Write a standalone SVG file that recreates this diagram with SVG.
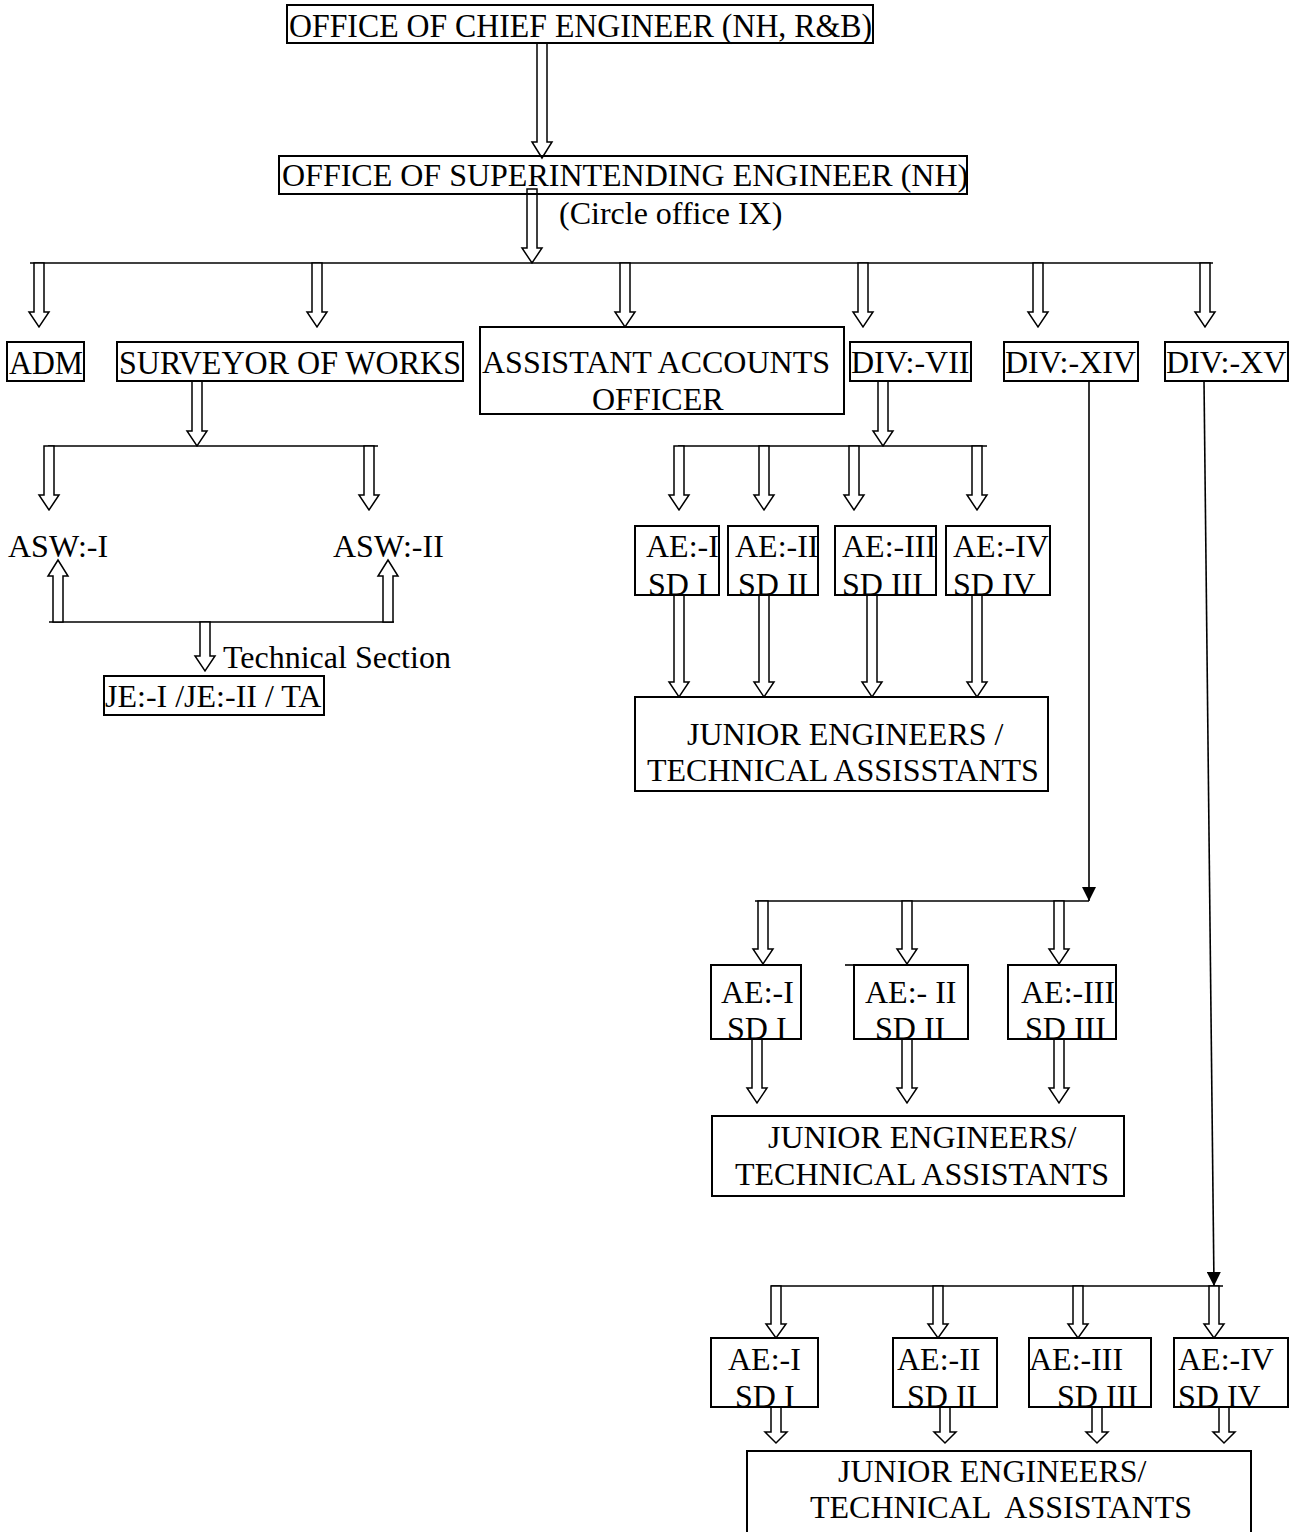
<svg xmlns="http://www.w3.org/2000/svg" width="1290" height="1532" viewBox="0 0 1290 1532">
<style>
.t{font-family:"Liberation Serif","Times New Roman",serif;font-size:32px;fill:#000;white-space:pre}
.tl{font-size:34px}
.box{fill:none;stroke:#000;stroke-width:2}
.ba{fill:#fff;stroke:#000;stroke-width:1.5;stroke-linejoin:miter}
.ln{fill:none;stroke:#000;stroke-width:1.6}
</style>
<defs>
<marker id="fa" viewBox="0 0 10 10" refX="10" refY="5" markerWidth="14" markerHeight="14" markerUnits="userSpaceOnUse" orient="auto">
<path d="M0,0 L10,5 L0,10 z" fill="#000"/>
</marker>
</defs>
<rect width="1290" height="1532" fill="#fff"/>
<g id="connectors">
<line class="ln" x1="30" y1="263" x2="1213" y2="263"/>
<line class="ln" x1="48" y1="446" x2="378" y2="446"/>
<line class="ln" x1="49" y1="622" x2="394" y2="622"/>
<line class="ln" x1="678" y1="446" x2="987" y2="446"/>
<line class="ln" x1="755" y1="901" x2="1089" y2="901"/>
<line class="ln" x1="771" y1="1286" x2="1223" y2="1286"/>
<line class="ln" x1="1089" y1="381" x2="1089" y2="901" marker-end="url(#fa)"/>
<line class="ln" x1="1204" y1="381" x2="1214" y2="1286" marker-end="url(#fa)"/>
<polygon class="ba" points="537,43 547,43 547,142 552,142 542,158 532,142 537,142"/>
<polygon class="ba" points="527,189 537,189 537,248 542,248 532,263 522,248 527,248"/>
<polygon class="ba" points="34,263 44,263 44,312 49,312 39,327 29,312 34,312"/>
<polygon class="ba" points="312,263 322,263 322,312 327,312 317,327 307,312 312,312"/>
<polygon class="ba" points="620,263 630,263 630,312 635,312 625,327 615,312 620,312"/>
<polygon class="ba" points="858,263 868,263 868,312 873,312 863,327 853,312 858,312"/>
<polygon class="ba" points="1033,263 1043,263 1043,312 1048,312 1038,327 1028,312 1033,312"/>
<polygon class="ba" points="1200,263 1210,263 1210,312 1215,312 1205,327 1195,312 1200,312"/>
<polygon class="ba" points="192,381 202,381 202,431 207,431 197,446 187,431 192,431"/>
<polygon class="ba" points="44,446 54,446 54,495 59,495 49,510 39,495 44,495"/>
<polygon class="ba" points="364,446 374,446 374,495 379,495 369,510 359,495 364,495"/>
<polygon class="ba" points="53,622 63,622 63,576 68,576 58,560 48,576 53,576"/>
<polygon class="ba" points="383,622 393,622 393,576 398,576 388,560 378,576 383,576"/>
<polygon class="ba" points="200,622 210,622 210,656 215,656 205,671 195,656 200,656"/>
<polygon class="ba" points="878,381 888,381 888,431 893,431 883,446 873,431 878,431"/>
<polygon class="ba" points="674,446 684,446 684,495 689,495 679,510 669,495 674,495"/>
<polygon class="ba" points="759,446 769,446 769,495 774,495 764,510 754,495 759,495"/>
<polygon class="ba" points="849,446 859,446 859,495 864,495 854,510 844,495 849,495"/>
<polygon class="ba" points="972,446 982,446 982,495 987,495 977,510 967,495 972,495"/>
<polygon class="ba" points="674,595 684,595 684,682 689,682 679,697 669,682 674,682"/>
<polygon class="ba" points="759,595 769,595 769,682 774,682 764,697 754,682 759,682"/>
<polygon class="ba" points="867,595 877,595 877,682 882,682 872,697 862,682 867,682"/>
<polygon class="ba" points="972,595 982,595 982,682 987,682 977,697 967,682 972,682"/>
<polygon class="ba" points="758,901 768,901 768,949 773,949 763,964 753,949 758,949"/>
<polygon class="ba" points="902,901 912,901 912,949 917,949 907,964 897,949 902,949"/>
<polygon class="ba" points="1054,901 1064,901 1064,949 1069,949 1059,964 1049,949 1054,949"/>
<polygon class="ba" points="752,1039 762,1039 762,1088 767,1088 757,1103 747,1088 752,1088"/>
<polygon class="ba" points="902,1039 912,1039 912,1088 917,1088 907,1103 897,1088 902,1088"/>
<polygon class="ba" points="1054,1039 1064,1039 1064,1088 1069,1088 1059,1103 1049,1088 1054,1088"/>
<polygon class="ba" points="771,1286 781,1286 781,1324 786,1324 776,1338 766,1324 771,1324"/>
<polygon class="ba" points="933,1286 943,1286 943,1324 948,1324 938,1338 928,1324 933,1324"/>
<polygon class="ba" points="1073,1286 1083,1286 1083,1324 1088,1324 1078,1338 1068,1324 1073,1324"/>
<polygon class="ba" points="1209,1286 1219,1286 1219,1324 1224,1324 1214,1338 1204,1324 1209,1324"/>
<polygon class="ba" points="771,1407 781,1407 781,1432 787,1432 776,1443 765,1432 771,1432"/>
<polygon class="ba" points="940,1407 950,1407 950,1432 956,1432 945,1443 934,1432 940,1432"/>
<polygon class="ba" points="1092,1407 1102,1407 1102,1432 1108,1432 1097,1443 1086,1432 1092,1432"/>
<polygon class="ba" points="1219,1407 1229,1407 1229,1432 1235,1432 1224,1443 1213,1432 1219,1432"/>
</g>
<g id="n-ce"><rect class="box" x="287" y="5" width="586" height="38"/><text class="t tl" x="289" y="37" textLength="583" lengthAdjust="spacingAndGlyphs">OFFICE OF CHIEF ENGINEER (NH, R&amp;B)</text></g>
<g id="n-se"><rect class="box" x="279" y="156" width="688" height="38"/><text class="t" x="282" y="186">OFFICE OF SUPERINTENDING ENGINEER (NH)</text><text class="t" x="559" y="224">(Circle office IX)</text></g>
<g id="n-adm"><rect class="box" x="7" y="342" width="77" height="39"/><text class="t tl" x="9" y="374" textLength="74" lengthAdjust="spacingAndGlyphs">ADM</text></g>
<g id="n-sow"><rect class="box" x="117" y="342" width="346" height="39"/><text class="t tl" x="119" y="374" textLength="342" lengthAdjust="spacingAndGlyphs">SURVEYOR OF WORKS</text></g>
<g id="n-aao"><rect class="box" x="480" y="327" width="364" height="87"/><text class="t" x="482" y="373">ASSISTANT ACCOUNTS</text><text class="t" x="592" y="410">OFFICER</text></g>
<g id="n-div7"><rect class="box" x="850" y="342" width="121" height="39"/><text class="t" x="851" y="373">DIV:-VII</text></g>
<g id="n-div14"><rect class="box" x="1004" y="342" width="134" height="39"/><text class="t" x="1005" y="373">DIV:-XIV</text></g>
<g id="n-div15"><rect class="box" x="1165" y="342" width="123" height="39"/><text class="t" x="1166" y="373">DIV:-XV</text></g>
<g id="n-asw1"><text class="t" x="8" y="557">ASW:-I</text></g>
<g id="n-asw2"><text class="t" x="333" y="557">ASW:-II</text></g>
<g id="n-tech"><text class="t" x="223" y="668">Technical Section</text><rect class="box" x="104" y="676" width="220" height="39"/><text class="t" x="105" y="707">JE:-I /JE:-II / TA</text></g>
<g id="n-d7-ae1"><rect class="box" x="635" y="526" width="84" height="69"/><text class="t" x="646" y="557">AE:-I</text><text class="t" x="648" y="595">SD I</text></g>
<g id="n-d7-ae2"><rect class="box" x="728" y="526" width="90" height="69"/><text class="t" x="735" y="557">AE:-II</text><text class="t" x="738" y="595">SD II</text></g>
<g id="n-d7-ae3"><rect class="box" x="835" y="526" width="101" height="69"/><text class="t" x="842" y="557">AE:-III</text><text class="t" x="842" y="595">SD III</text></g>
<g id="n-d7-ae4"><rect class="box" x="946" y="526" width="104" height="69"/><text class="t" x="953" y="557">AE:-IV</text><text class="t" x="953" y="595">SD IV</text></g>
<g id="n-d7-je"><rect class="box" x="635" y="697" width="413" height="94"/><text class="t" x="687" y="745">JUNIOR ENGINEERS /</text><text class="t" x="647" y="781">TECHNICAL ASSISSTANTS</text></g>
<g id="n-d14-ae1"><rect class="box" x="711" y="965" width="90" height="74"/><text class="t" x="721" y="1003">AE:-I</text><text class="t" x="727" y="1039">SD I</text></g>
<g id="n-d14-ae2"><rect class="box" x="854" y="965" width="114" height="74"/><line class="ln" x1="845" y1="965" x2="854" y2="965"/><text class="t" x="865" y="1003">AE:- II</text><text class="t" x="875" y="1039">SD II</text></g>
<g id="n-d14-ae3"><rect class="box" x="1008" y="965" width="108" height="74"/><text class="t" x="1021" y="1003">AE:-III</text><text class="t" x="1025" y="1039">SD III</text></g>
<g id="n-d14-je"><rect class="box" x="712" y="1116" width="412" height="80"/><text class="t" x="768" y="1148">JUNIOR ENGINEERS/</text><text class="t" x="735" y="1185">TECHNICAL ASSISTANTS</text></g>
<g id="n-d15-ae1"><rect class="box" x="711" y="1338" width="107" height="69"/><text class="t" x="728" y="1370">AE:-I</text><text class="t" x="735" y="1407">SD I</text></g>
<g id="n-d15-ae2"><rect class="box" x="893" y="1338" width="104" height="69"/><text class="t" x="897" y="1370">AE:-II</text><text class="t" x="907" y="1407">SD II</text></g>
<g id="n-d15-ae3"><rect class="box" x="1029" y="1338" width="122" height="69"/><text class="t" x="1029" y="1370">AE:-III</text><text class="t" x="1057" y="1407">SD III</text></g>
<g id="n-d15-ae4"><rect class="box" x="1174" y="1338" width="114" height="69"/><text class="t" x="1178" y="1370">AE:-IV</text><text class="t" x="1178" y="1407">SD IV</text></g>
<g id="n-d15-je"><rect class="box" x="747" y="1451" width="504" height="100"/><text class="t" x="838" y="1482">JUNIOR ENGINEERS/</text><text class="t" x="810" y="1518">TECHNICAL  ASSISTANTS</text></g>
</svg>
